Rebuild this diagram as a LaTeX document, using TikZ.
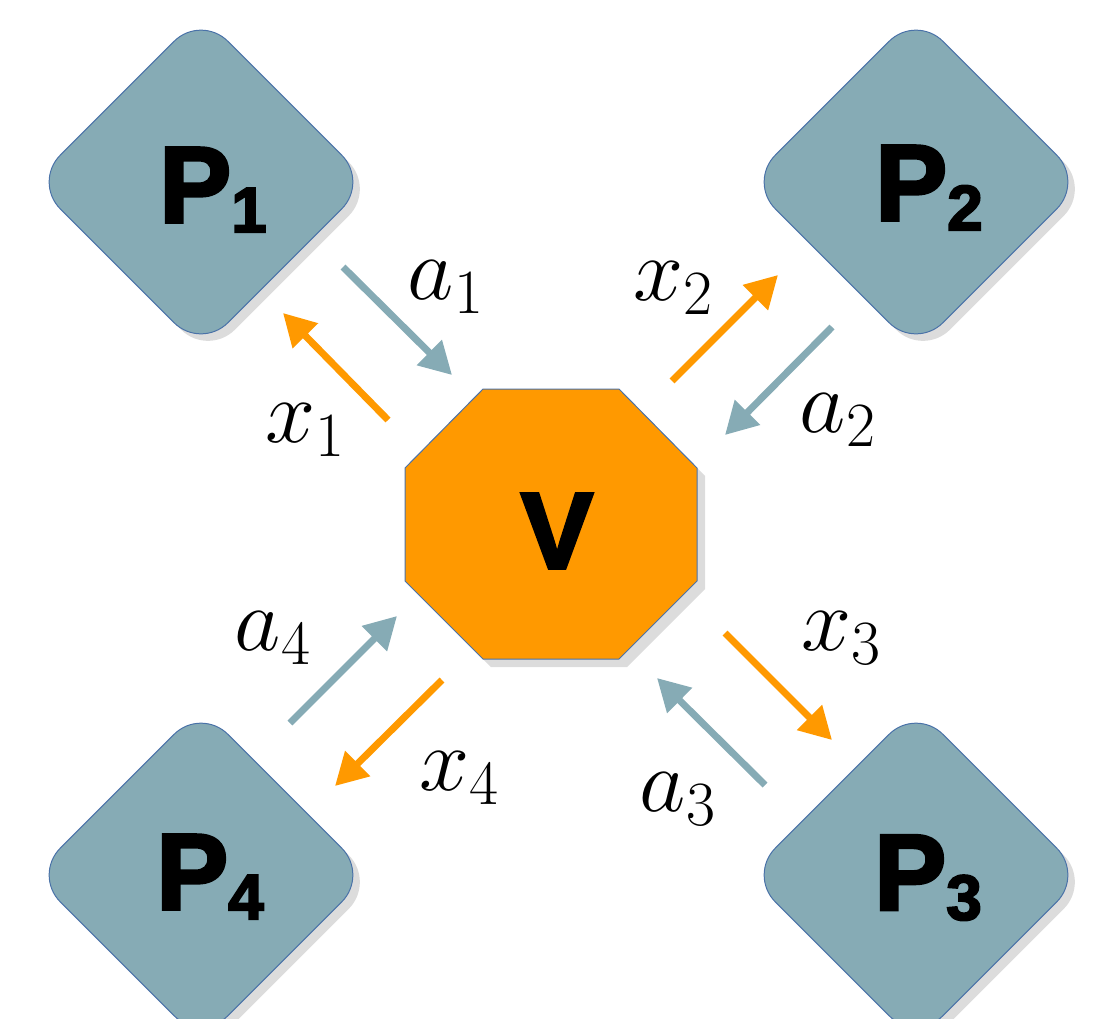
\RequirePackage{fix-cm}
\documentclass[tikz,border=0pt]{standalone}
\usepackage{fontspec}
\newfontfamily\heavy[FakeBold=3]{Liberation Sans Bold}
\usetikzlibrary{arrows.meta,shadows}
\definecolor{pteal}{HTML}{86ABB5}
\definecolor{porange}{HTML}{FF9900}
\definecolor{bordc}{HTML}{4A72A8}
\definecolor{shadc}{HTML}{DCDCDC}
\begin{document}
\begin{tikzpicture}[x=0.5pt,y=-0.5pt,
  diam/.style={draw=bordc, line width=0.5pt, fill=pteal, rectangle, rotate=45,
    minimum size=118.5pt, rounded corners=19pt, inner sep=0pt,
    drop shadow={shadow xshift=3.5pt, shadow yshift=-3.5pt, fill=shadc, opacity=1}},
  tarrow/.style={draw=pteal, line width=3.5pt, -{Triangle[length=16pt,width=17pt]}},
  oarrow/.style={draw=porange, line width=3.5pt, -{Triangle[length=16pt,width=17pt]}},
  lab/.style={font=\fontsize{45}{50}\selectfont, inner sep=0pt},
  plab/.style={font=\heavy\fontsize{54}{60}\selectfont, inner sep=0pt}
]
\useasboundingbox (0,0) rectangle (1101,1018);

% diamonds
\node[diam] (p1) at (201,182) {};
\node[diam] (p2) at (916,182) {};
\node[diam] (p3) at (916,875) {};
\node[diam] (p4) at (201,875) {};

\newcommand{\plabel}[1]{P{\fontsize{32}{36}\selectfont\raisebox{-5pt}{#1}}}
\node[plab] (p1t) at (213,190) {\plabel{1}};
\node[plab] (p2t) at (929,188) {\plabel{2}};
\node[plab] (p3t) at (928,878) {\plabel{3}};
\node[plab] (p4t) at (210,877) {\plabel{4}};

% octagon
\fill[shadc, shift={(8,8)}] (483,389) -- (619,389) -- (697,468) -- (697,581) -- (619,659) -- (483,659) -- (405,581) -- (405,468) -- cycle;
\filldraw[fill=porange, draw=bordc, line width=0.5pt] (483,389) -- (619,389) -- (697,468) -- (697,581) -- (619,659) -- (483,659) -- (405,581) -- (405,468) -- cycle;
\node[plab] (v) at (557,531) {V};

% arrow end points
\coordinate (a1s) at (343,267); \coordinate (a1e) at (452,375);
\coordinate (x1s) at (388,420); \coordinate (x1e) at (283,313);
\coordinate (x2s) at (672,381); \coordinate (x2e) at (778,275);
\coordinate (a2s) at (832,327); \coordinate (a2e) at (725,435);
\coordinate (x3s) at (725,633); \coordinate (x3e) at (832,740);
\coordinate (a3s) at (765,785); \coordinate (a3e) at (657,678);
\coordinate (a4s) at (290,723); \coordinate (a4e) at (397,616);
\coordinate (x4s) at (442,680); \coordinate (x4e) at (335,786);

\draw[tarrow] (a1s) -- (a1e);
\draw[oarrow] (x1s) -- (x1e);
\draw[oarrow] (x2s) -- (x2e);
\draw[tarrow] (a2s) -- (a2e);
\draw[oarrow] (x3s) -- (x3e);
\draw[tarrow] (a3s) -- (a3e);
\draw[tarrow] (a4s) -- (a4e);
\draw[oarrow] (x4s) -- (x4e);

% labels
\node[lab] (la1) at (446,287) {$a_1$};
\node[lab] (lx1) at (305,430) {$x_1$};
\node[lab] (lx2) at (673,288) {$x_2$};
\node[lab] (la2) at (838,420) {$a_2$};
\node[lab] (lx3) at (841,638) {$x_3$};
\node[lab] (la3) at (678,799) {$a_3$};
\node[lab] (la4) at (273,638) {$a_4$};
\node[lab] (lx4) at (459,778) {$x_4$};
\end{tikzpicture}
\end{document}
